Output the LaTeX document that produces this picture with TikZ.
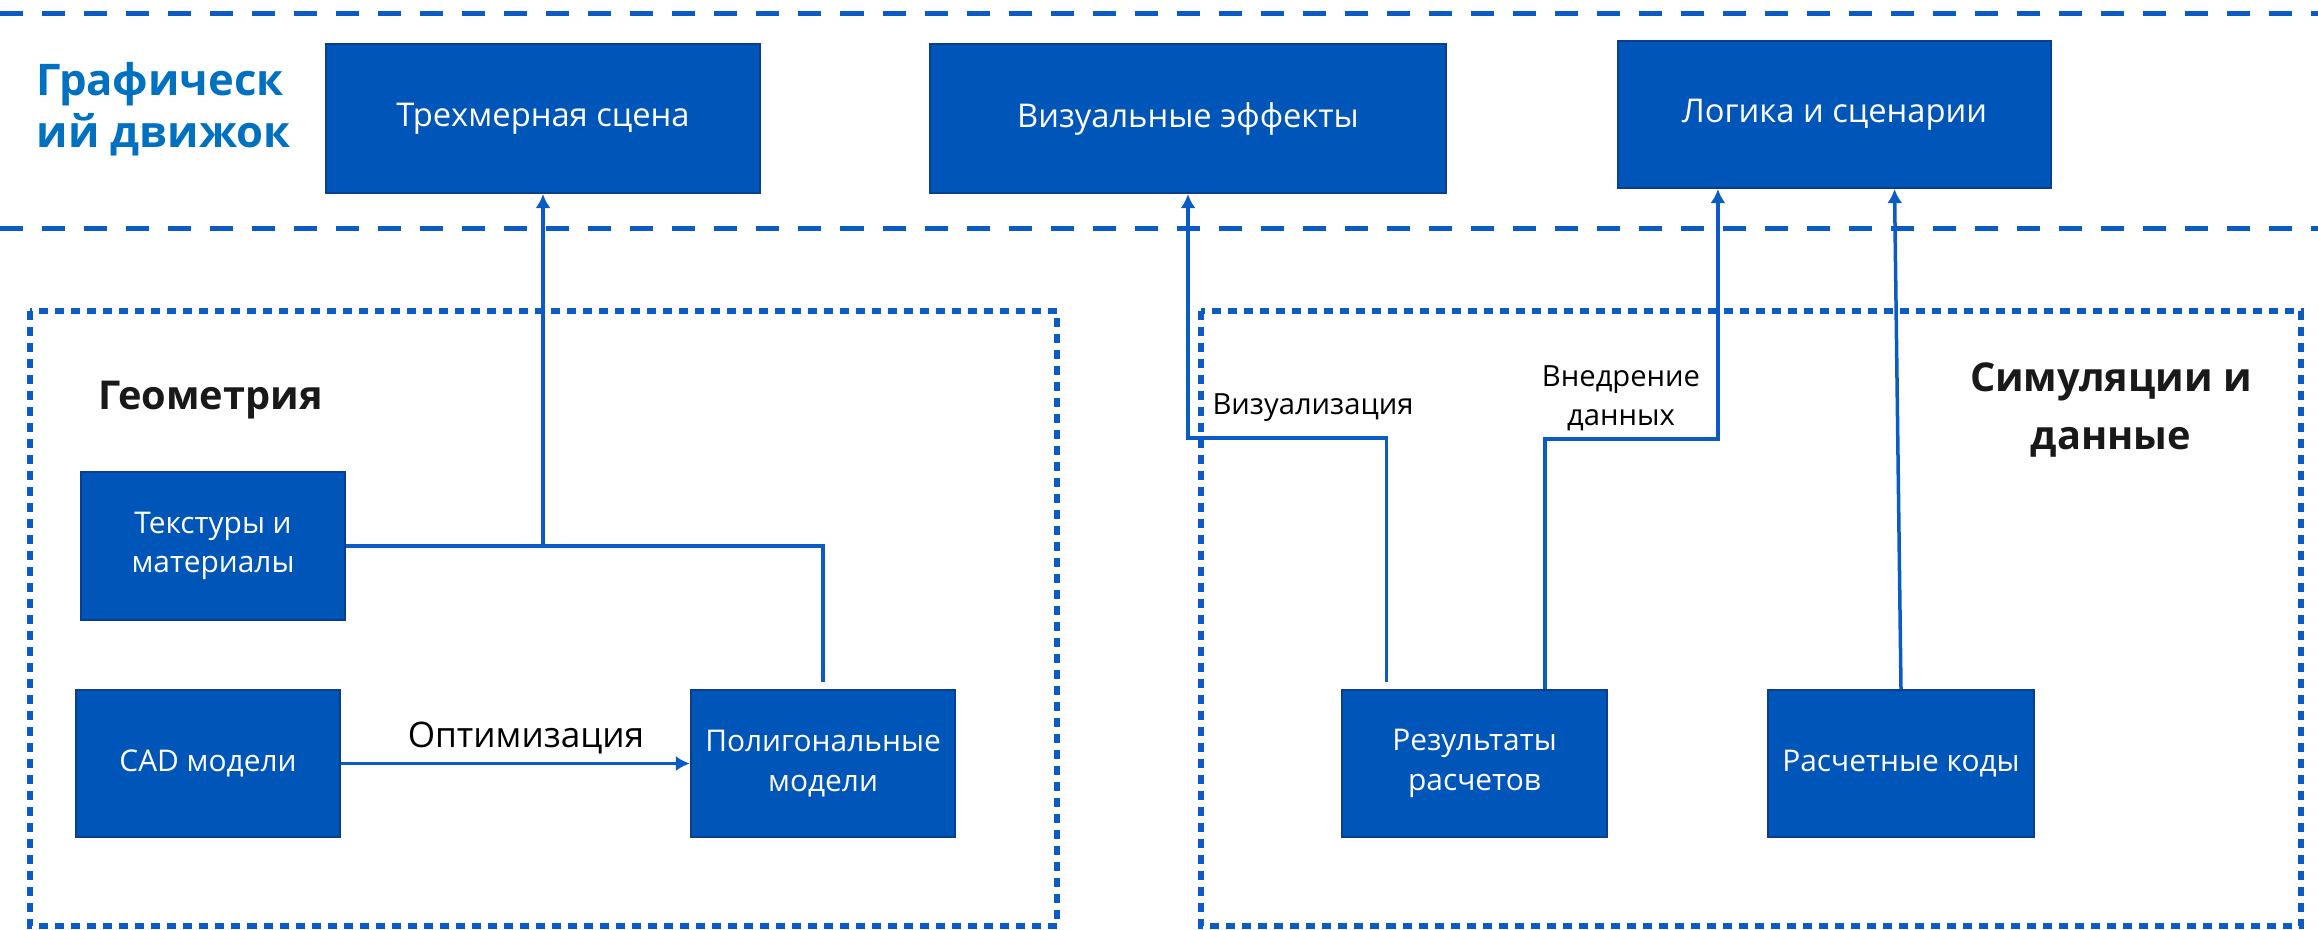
\documentclass[tikz,border=0pt]{standalone}
\usepackage{fontspec}
\setmainfont{Open Sans}
\usetikzlibrary{arrows.meta, positioning}

\definecolor{boxblue}{HTML}{0055B8}
\definecolor{boxedge}{HTML}{0A3F8F}
\definecolor{lineblue}{HTML}{0A5CC4}
\definecolor{titleblue}{HTML}{0070C0}

\tikzset{
  block/.style={draw=boxedge, fill=boxblue, line width=0.02cm, text=white,
    align=center, inner sep=0pt, minimum width=2.64cm, minimum height=1.47cm,
    font=\fontsize{8.5}{11.3}\selectfont},
  topblock/.style={block, minimum height=1.49cm, font=\fontsize{9.3}{11}\selectfont},
  link/.style={draw=lineblue, line width=0.035cm},
  arrow/.style={link, -{Latex[length=0.14cm, width=0.15cm]}},
  lane/.style={draw=lineblue, line width=0.05cm, dash pattern=on 0.23cm off 0.19cm},
  group/.style={draw=lineblue, line width=0.055cm, dash pattern=on 0.09cm off 0.07cm},
  lbl/.style={inner sep=0pt, align=center, font=\fontsize{8.3}{11.1}\selectfont},
  heading/.style={inner sep=0pt, align=center, text=black!90,
    font=\bfseries\fontsize{11.3}{16.5}\selectfont}
}

\begin{document}
\begin{tikzpicture}[x=0.01cm, y=-0.01cm]
    \useasboundingbox (0,0) rectangle (2318,929);

    % engine lane
    \draw[lane] (0,13) -- (2318,13);
    \draw[lane] (0,228) -- (2318,228);
    \node[inner sep=0pt, anchor=west, align=left, text=titleblue,
      font=\bfseries\fontsize{12.4}{14.8}\selectfont] (engine) at (36,109) {Графическ\\ий движок};

    \node[topblock, minimum width=4.34cm] (scene) at (543,118.5) {Трехмерная сцена};
    \node[topblock, minimum width=5.16cm] (vfx) at (1188,118.5) {Визуальные эффекты};
    \node[topblock, minimum width=4.33cm, minimum height=1.47cm] (logic) at (1834.5,114.5) {Логика и сценарии};

    % geometry
    \draw[group] (30,311) rectangle (1057,926);
    \node[heading, anchor=west] (geo) at (98,400) {Геометрия};
    \node[block] (tex) at (213,546) {Текстуры и\\материалы};
    \node[block] (cad) at (208,763.5) {CAD модели};
    \node[block] (poly) at (823,763.5) {Полигональные\\модели};

    % simulations and data
    \draw[group] (1201,311) rectangle (2301,926);
    \node[heading] (sim) at (2111,410) {Симуляции и\\данные};
    \node[block, minimum width=2.65cm] (res) at (1474.5,763.5) {Результаты\\расчетов};
    \node[block, minimum width=2.66cm] (codes) at (1901,763.5) {Расчетные коды};

    % connectors
    \coordinate (join) at (scene.south |- tex.east);
    \draw[link] ([yshift=0.07cm]poly.north) |- (tex.east);
    \draw[arrow] (join) -- (scene.south);
    \draw[arrow] (cad.east) -- node[pos=0.53, above=0.08cm, inner sep=0pt,
      font=\fontsize{10}{12}\selectfont] (opt) {Оптимизация} (poly.west);

    \draw[arrow] ([xshift=-0.88cm, yshift=0.07cm]res.north)
      |- ([yshift=-2.44cm]vfx.south) -- (vfx.south);
    \node[lbl] (vis) at (1313,408) {Визуализация};

    \draw[arrow] ([xshift=0.705cm]res.north)
      |- ([xshift=-1.165cm, yshift=-2.5cm]logic.south) -- ([xshift=-1.165cm]logic.south);
    \node[lbl] (feed) at (1621,398) {Внедрение\\данных};

    \draw[arrow] (codes.north) -- ([xshift=0.6cm]logic.south);

\end{tikzpicture}
\end{document}
